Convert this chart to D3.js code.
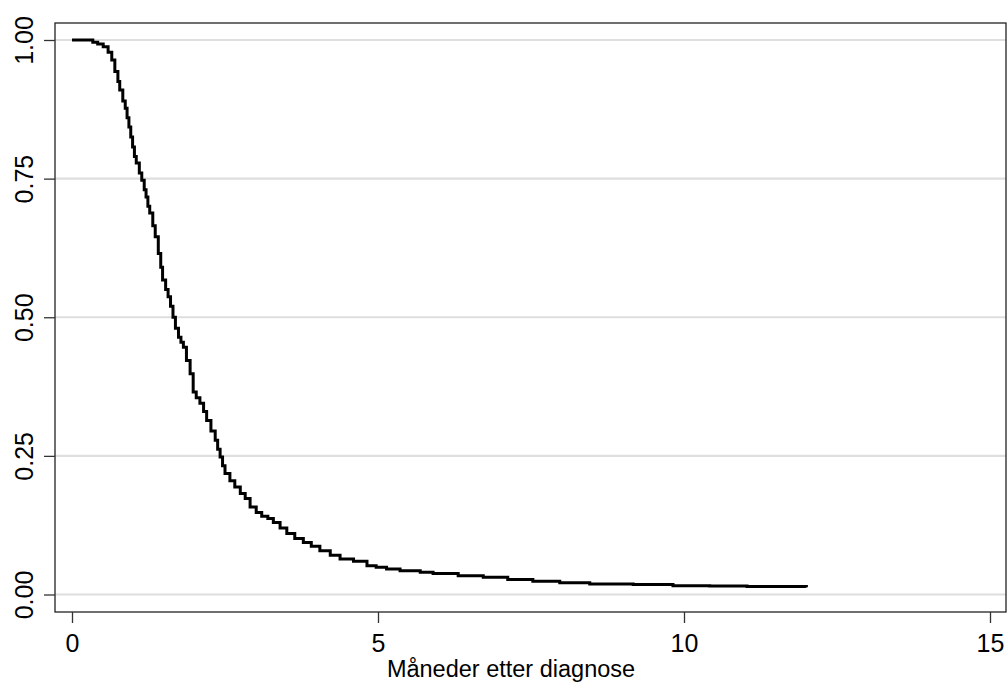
<!DOCTYPE html>
<html>
<head>
<meta charset="utf-8">
<script src="https://cdn.jsdelivr.net/npm/d3@7"></script>
<style>
  body { margin: 0; background: #fff; }
  text { font-family: "Liberation Sans", Arial, sans-serif; }
</style>
</head>
<body>
<div id="chart"></div>
<script>
// time in months and survival estimates
var months = [0, 0.21, 0.34, 0.42, 0.51, 0.59, 0.65, 0.70, 0.75, 0.78, 0.83, 0.87, 0.90, 0.93, 0.96, 0.99,
  1.02, 1.05, 1.10, 1.14, 1.18, 1.21, 1.24, 1.27, 1.32, 1.36, 1.41, 1.45, 1.48, 1.53, 1.57, 1.61, 1.65,
  1.69, 1.74, 1.78, 1.82, 1.87, 1.93, 1.98, 2.03, 2.09, 2.15, 2.20, 2.27, 2.34, 2.38, 2.42, 2.46, 2.50,
  2.58, 2.66, 2.75, 2.83, 2.91, 3.01, 3.10, 3.20, 3.29, 3.40, 3.51, 3.64, 3.78, 3.91, 4.05, 4.22, 4.38,
  4.60, 4.82, 4.97, 5.14, 5.36, 5.69, 5.90, 6.31, 6.72, 7.12, 7.53, 7.97, 8.46, 9.17, 9.82, 10.42, 11.03, 12.0];
var survival = [1.0, 1.0, 0.996, 0.993, 0.988, 0.978, 0.964, 0.943, 0.925, 0.91, 0.89, 0.877, 0.86, 0.843, 0.825, 0.807,
  0.79, 0.778, 0.76, 0.747, 0.73, 0.717, 0.70, 0.688, 0.665, 0.645, 0.615, 0.59, 0.567, 0.55, 0.537, 0.52, 0.50,
  0.48, 0.464, 0.455, 0.446, 0.422, 0.398, 0.365, 0.355, 0.345, 0.33, 0.314, 0.295, 0.278, 0.262, 0.248, 0.232, 0.218,
  0.205, 0.194, 0.182, 0.173, 0.158, 0.148, 0.141, 0.137, 0.13, 0.12, 0.11, 0.101, 0.094, 0.087, 0.079, 0.071, 0.064,
  0.06, 0.052, 0.049, 0.046, 0.043, 0.040, 0.038, 0.034, 0.031, 0.027, 0.024, 0.021, 0.019, 0.018, 0.016, 0.0155, 0.0144, 0.013];
var xTicks = [0, 5, 10, 15];
var yTicks = [0, 0.25, 0.5, 0.75, 1];
var xTitle = "Måneder etter diagnose";

var data = months.map(function(m, i) { return { t: m, s: survival[i] }; });

var W = 1007, H = 683;
var box = { left: 55, top: 23, right: 1006, bottom: 612 };

var svg = d3.select("#chart")
  .append("svg")
    .attr("width", W)
    .attr("height", H);

var x = d3.scaleLinear().domain([0, 15]).range([72, 990]);
var y = d3.scaleLinear().domain([0, 1]).range([594.5, 40]);

// gridlines
svg.append("g")
  .selectAll("line")
  .data(yTicks)
  .enter().append("line")
    .attr("x1", box.left).attr("x2", box.right)
    .attr("y1", function(d) { return y(d); })
    .attr("y2", function(d) { return y(d); })
    .attr("stroke", "#dedede")
    .attr("stroke-width", 2.2);

// plot box
svg.append("rect")
  .attr("x", box.left).attr("y", box.top)
  .attr("width", box.right - box.left)
  .attr("height", box.bottom - box.top)
  .attr("fill", "none")
  .attr("stroke", "#222")
  .attr("stroke-width", 1.3);

// y axis
var yAxis = svg.append("g")
  .attr("transform", "translate(" + box.left + ",0)")
  .call(d3.axisLeft(y).tickValues(yTicks).tickSize(11).tickPadding(0).tickFormat(d3.format(".2f")));
yAxis.select(".domain").remove();
yAxis.selectAll(".tick line").attr("stroke", "#333").attr("stroke-width", 1.3);
yAxis.selectAll(".tick text")
  .attr("x", 0).attr("dy", 0)
  .attr("transform", "translate(-22,0) rotate(-90)")
  .attr("text-anchor", "middle")
  .attr("font-size", 25)
  .attr("font-family", "Liberation Sans, Arial, sans-serif")
  .attr("fill", "#000");

// x axis
var xAxis = svg.append("g")
  .attr("transform", "translate(0," + box.bottom + ")")
  .call(d3.axisBottom(x).tickValues(xTicks).tickSize(11).tickPadding(0).tickFormat(d3.format("d")));
xAxis.select(".domain").remove();
xAxis.selectAll(".tick line").attr("stroke", "#333").attr("stroke-width", 1.3);
xAxis.selectAll(".tick text")
  .attr("y", 40).attr("dy", 0)
  .attr("font-size", 25)
  .attr("font-family", "Liberation Sans, Arial, sans-serif")
  .attr("fill", "#000");

// axis title
svg.append("text")
  .attr("x", 511)
  .attr("y", 677)
  .attr("text-anchor", "middle")
  .attr("font-size", 23.5)
  .text(xTitle);

// survival curve
svg.append("path")
  .datum(data)
  .attr("fill", "none")
  .attr("stroke", "#000")
  .attr("stroke-width", 3)
  .attr("d", d3.line()
    .curve(d3.curveStepAfter)
    .x(function(d) { return x(d.t); })
    .y(function(d) { return y(d.s); }));
</script>
</body>
</html>
